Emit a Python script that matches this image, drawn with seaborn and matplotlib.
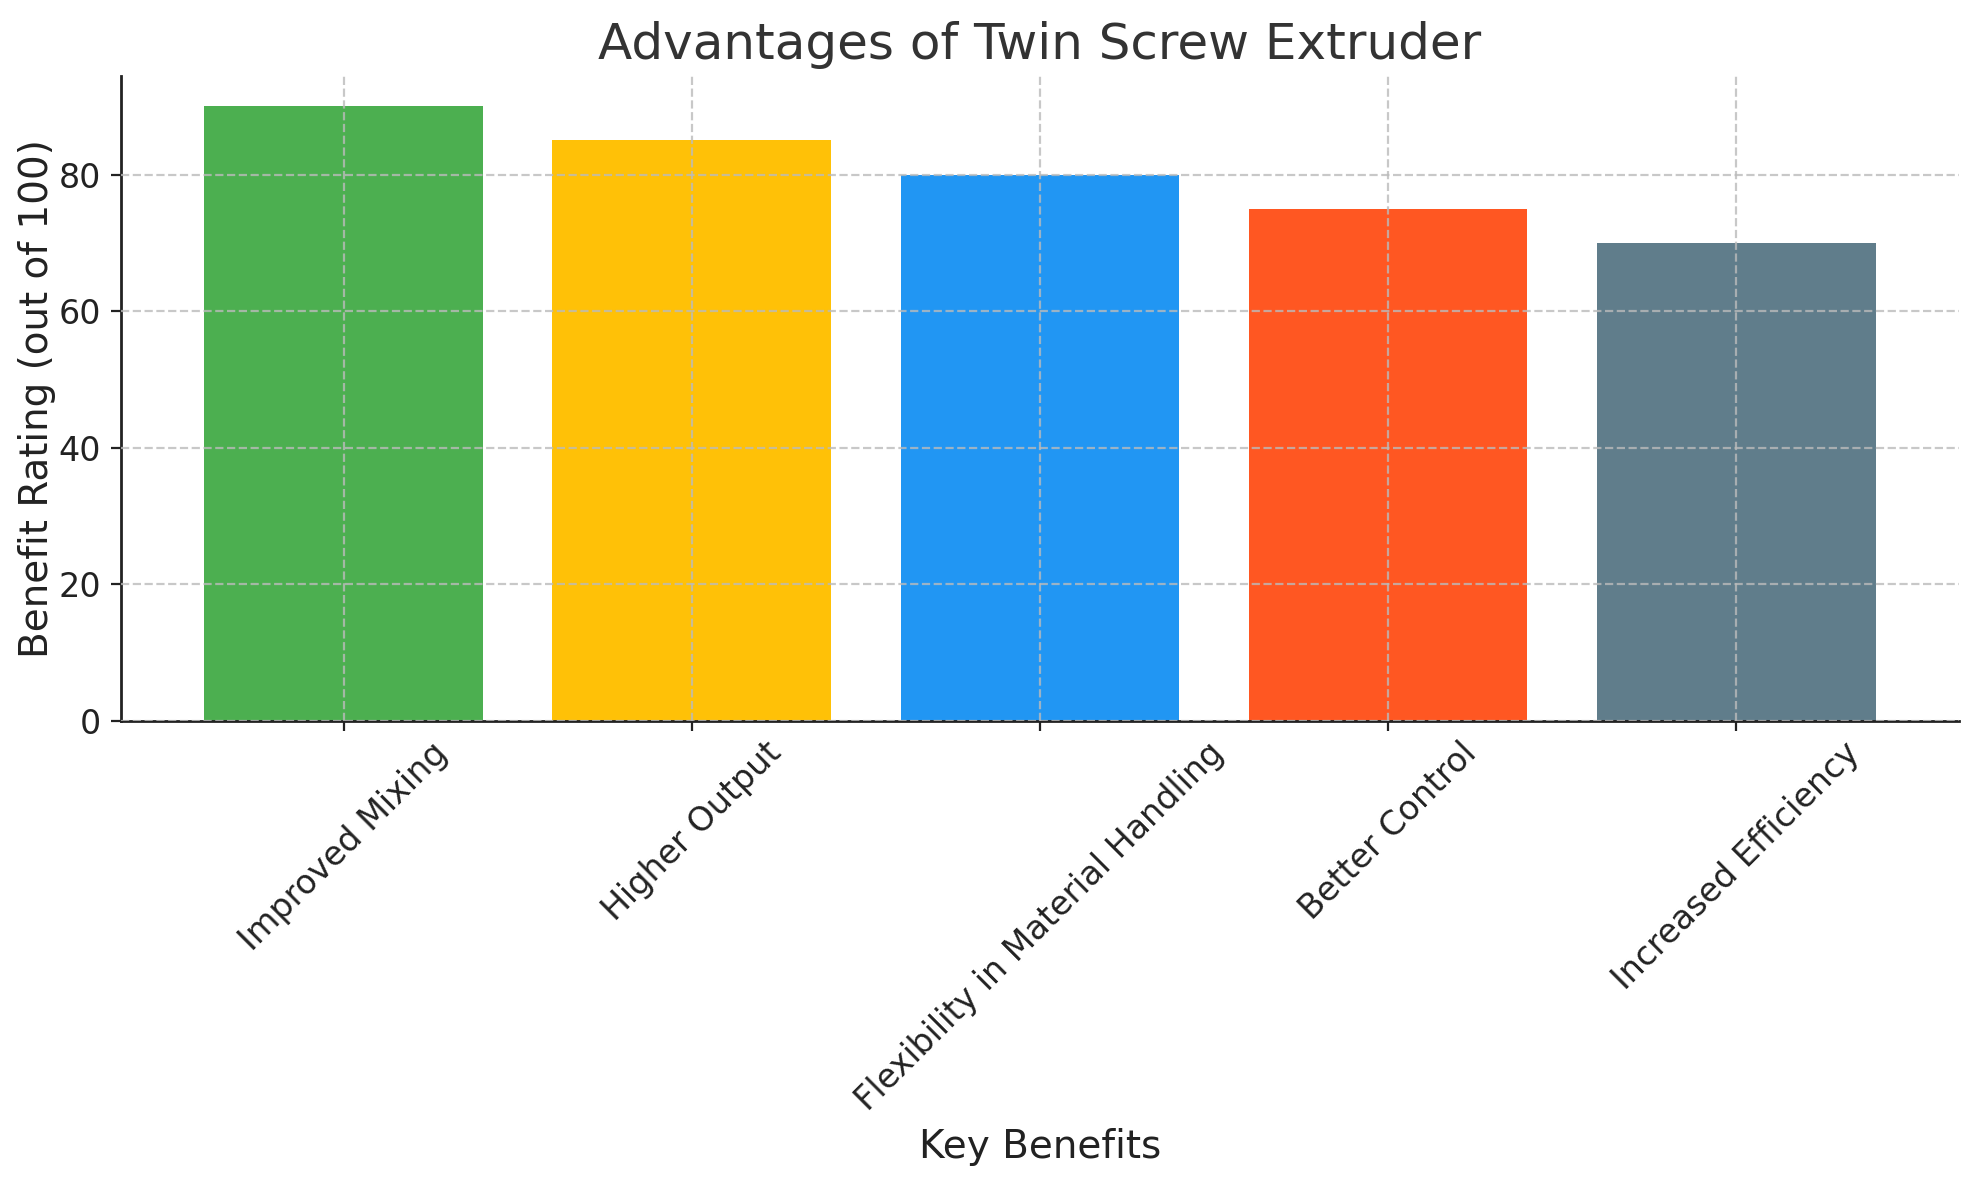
import matplotlib
matplotlib.use("Agg")
import matplotlib.pyplot as plt
import pandas as pd
import seaborn as sns

# Data
benefits = [
    "Improved Mixing",
    "Higher Output",
    "Flexibility in Material Handling",
    "Better Control",
    "Increased Efficiency",
]
ratings = [90, 85, 80, 75, 70]
bar_colors = ["#4CAF50", "#FFC107", "#2196F3", "#FF5722", "#607D8B"]


def main() -> None:
    sns.set_theme(style="white", context="notebook")
    plt.rcParams["font.family"] = ["DejaVu Sans"]

    df = pd.DataFrame({"Benefit": benefits, "Rating": ratings})

    fig, ax = plt.subplots(figsize=(1979 / 200, 1180 / 200), dpi=200)
    fig.subplots_adjust(left=0.061, right=0.990, top=0.936, bottom=0.389)

    sns.barplot(
        data=df,
        x="Benefit",
        y="Rating",
        hue="Benefit",
        palette=bar_colors,
        legend=False,
        width=0.8,
        saturation=1,
        linewidth=0,
        ax=ax,
    )

    ax.set_xlim(-0.64, 4.64)
    ax.set_ylim(0, 94.5)
    ax.set_axisbelow(False)
    ax.grid(True, linestyle="--", color="#bbbbbb", alpha=0.8, linewidth=0.8)

    ax.set_title("Advantages of Twin Screw Extruder", fontsize=18, color="#333333")
    ax.set_xlabel("Key Benefits", fontsize=14, color="#222222")
    ax.set_ylabel("Benefit Rating (out of 100)", fontsize=14, color="#222222", labelpad=1)
    ax.tick_params(axis="both", labelsize=12, colors="#222222",
                   bottom=True, left=True, length=3.5, width=0.8)
    ax.tick_params(axis="x", pad=2)
    plt.setp(ax.get_xticklabels(), rotation=45)

    for side in ["top", "right"]:
        ax.spines[side].set_visible(False)
    for side in ["left", "bottom"]:
        ax.spines[side].set_color("#222222")
        ax.spines[side].set_linewidth(1.0)

    fig.savefig("out.png", dpi=200)
    plt.close(fig)


if __name__ == "__main__":
    main()
